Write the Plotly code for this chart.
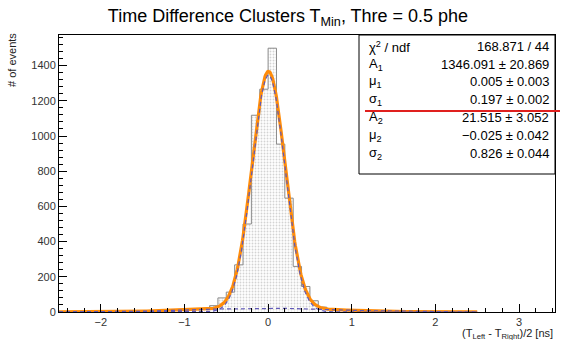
import numpy as np
import plotly.graph_objects as go

# ---------------- data ----------------
bin_width = 0.1
bin_left_edge = -2.5
counts = [
    1, 0, 1, 1, 2, 1, 2, 3, 2, 4, 5, 5, 7, 8, 9, 11, 13, 15,      # -2.5 .. -0.7
    36, 80, 113, 268, 500, 1118, 1266, 1499, 954, 647, 259, 145, 64, 28,  # -0.7 .. 0.7
    14, 12, 10, 9, 8, 6, 5, 4, 4, 3, 2, 2, 1, 1, 1, 0, 1, 0,     # 0.7 .. 2.5
]
# fit parameters (from stats box)
A1, mu1, s1 = 1346.091, 0.005, 0.197
A2, mu2, s2 = 21.515, -0.025, 0.826
fit_range = [-2.5, 2.5]

stat_labels = ["χ<sup>2</sup> / ndf", "A<sub>1</sub>", "μ<sub>1</sub>", "σ<sub>1</sub>",
               "A<sub>2</sub>", "μ<sub>2</sub>", "σ<sub>2</sub>"]
stat_values = ["168.871 / 44", "1346.091 ± 20.869", "0.005 ± 0.003", "0.197 ± 0.002",
               "21.515 ± 3.052", "−0.025 ± 0.042", "0.826 ± 0.044"]

title_text = "Time Difference Clusters T<sub>Min</sub>, Thre = 0.5 phe"
xtitle = "(T<sub>Left</sub> - T<sub>Right</sub>)/2 [ns]"
ytitle = "# of events"

# ---------------- geometry helpers ----------------
W, H = 563, 340
L, R, T, B = 59, 555, 35, 312
def px(x): return (x - L) / (R - L)
def py(y): return (B - y) / (B - T)

n = len(counts)
edges = [bin_left_edge + i * bin_width for i in range(n + 1)]
centers = [bin_left_edge + (i + 0.5) * bin_width for i in range(n)]

FONT = "Liberation Sans, Arial, sans-serif"

fig = go.Figure()
# histogram fill (dotted pattern)
fig.add_trace(go.Bar(
    x=centers, y=counts, width=bin_width,
    marker=dict(color="white", line=dict(width=0),
                pattern=dict(shape=".", fgcolor="#a8a8a8", bgcolor="white", size=3, solidity=0.3)),
    showlegend=False, hoverinfo="skip"))
# histogram outline (step)
sx, sy = [edges[0]], [0]
for i in range(n):
    sx += [edges[i], edges[i + 1]]
    sy += [counts[i], counts[i]]
sx.append(edges[-1]); sy.append(0)
fig.add_trace(go.Scatter(x=sx, y=sy, mode="lines", line=dict(color="#8a8a8a", width=1),
                         showlegend=False, hoverinfo="skip"))

# fit curves
xf = np.linspace(fit_range[0], fit_range[1], 801)
g1 = A1 * np.exp(-0.5 * ((xf - mu1) / s1) ** 2)
g2 = A2 * np.exp(-0.5 * ((xf - mu2) / s2) ** 2)
fig.add_trace(go.Scatter(x=xf, y=g1 + g2, mode="lines", line=dict(color="#ff8c0a", width=3.2),
                         showlegend=False, hoverinfo="skip"))
fig.add_trace(go.Scatter(x=xf, y=g1, mode="lines", line=dict(color="#6058b8", width=1.2, dash="4px,3px"),
                         showlegend=False, hoverinfo="skip"))
fig.add_trace(go.Scatter(x=xf, y=g2, mode="lines", line=dict(color="#6058b8", width=1.2, dash="4px,3px"),
                         showlegend=False, hoverinfo="skip"))

ymax = 1.05 * max(counts)

fig.update_layout(
    width=W, height=H,
    margin=dict(l=L, r=W - R, t=T, b=H - B),
    paper_bgcolor="white", plot_bgcolor="white",
    bargap=0,
    font=dict(family=FONT, color="#222222", size=11),
    title=dict(text=title_text, x=288 / W, xref="container", xanchor="center",
               y=1 - 16 / H, yref="container", yanchor="middle",
               font=dict(family=FONT, size=18, color="black")),
    xaxis=dict(range=[-2.5, 3.43], showgrid=False, zeroline=False,
               showline=True, linecolor="black", linewidth=1, mirror=True,
               ticks="inside", ticklen=8, tickcolor="black", dtick=1, tick0=0,
               tickfont=dict(size=11, color="#333333"),
               minor=dict(ticks="inside", ticklen=4, dtick=0.2, tickcolor="black")),
    yaxis=dict(range=[0, ymax], showgrid=False, zeroline=False,
               showline=True, linecolor="black", linewidth=1, mirror=True,
               ticks="inside", ticklen=8, tickcolor="black", dtick=200, tick0=0,
               tickfont=dict(size=11, color="#333333"),
               minor=dict(ticks="inside", ticklen=4, dtick=40, tickcolor="black")),
)

# stats box
fig.add_shape(type="rect", xref="paper", yref="paper", x0=px(359), x1=1.0, y0=py(174), y1=1.0,
              fillcolor="white", line=dict(color="black", width=1), layer="above")
row_y = [46.7, 64.3, 81.9, 99.8, 117.6, 135.6, 153.4]
for lab, val, yy in zip(stat_labels, stat_values, row_y):
    fig.add_annotation(text=lab, x=px(367), y=py(yy), xref="paper", yref="paper",
                       xanchor="left", yanchor="middle", showarrow=False,
                       font=dict(family=FONT, size=13, color="black"))
    fig.add_annotation(text=val, x=px(551), y=py(yy), xref="paper", yref="paper",
                       xanchor="right", yanchor="middle", showarrow=False,
                       font=dict(family=FONT, size=13, color="black"))
# red underline
fig.add_shape(type="line", xref="paper", yref="paper", x0=px(365), x1=px(560),
              y0=py(111), y1=py(111), line=dict(color="#e0201e", width=2.2), layer="above")

# axis titles
fig.add_annotation(text=xtitle, x=1.0, y=py(333.5), xref="paper", yref="paper",
                   xanchor="right", yanchor="middle", showarrow=False,
                   font=dict(family=FONT, size=11, color="#222222"))
fig.add_annotation(text=ytitle, x=px(12), y=py(60), xref="paper", yref="paper",
                   xanchor="center", yanchor="middle", textangle=-90, showarrow=False,
                   font=dict(family=FONT, size=11, color="#222222"))

fig.write_html("out.html")
